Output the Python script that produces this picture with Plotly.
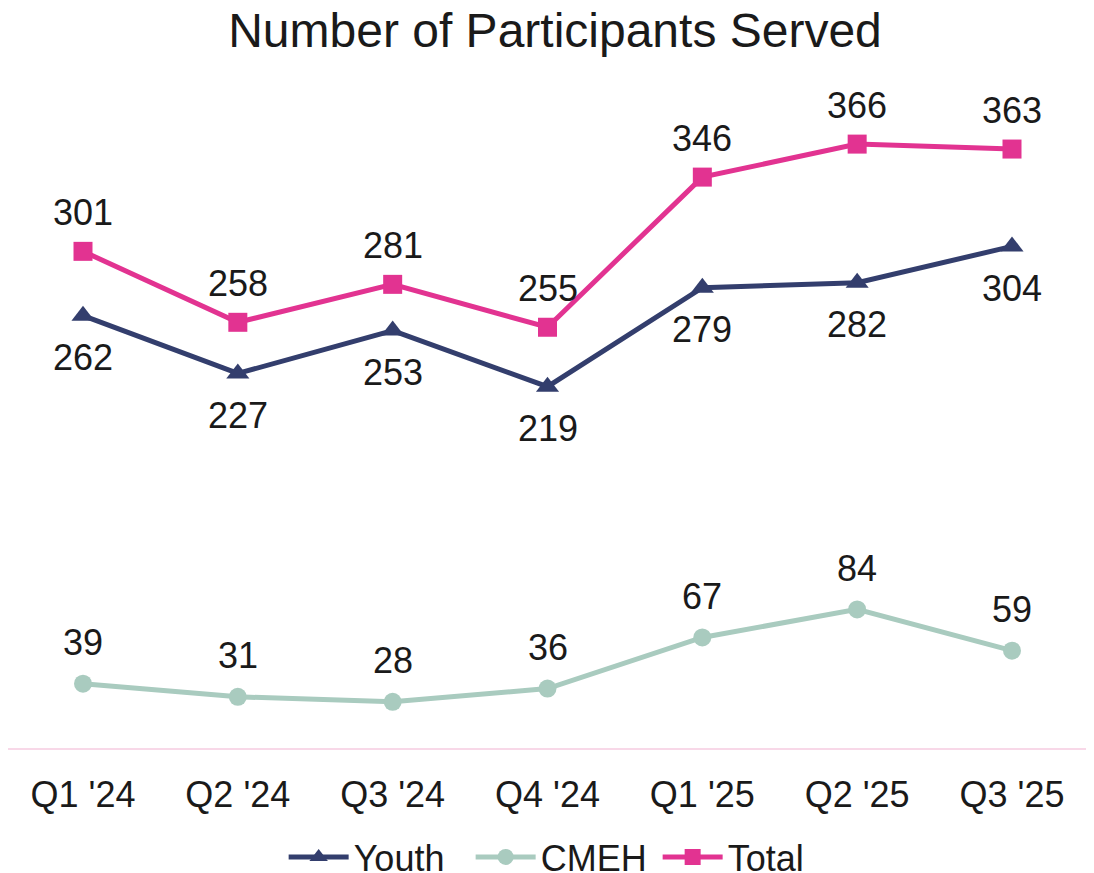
import plotly.graph_objects as go

quarters = ["Q1 '24", "Q2 '24", "Q3 '24", "Q4 '24", "Q1 '25", "Q2 '25", "Q3 '25"]
youth = [262, 227, 253, 219, 279, 282, 304]
cmeh = [39, 31, 28, 36, 67, 84, 59]
total = [301, 258, 281, 255, 346, 366, 363]

FONT = "Liberation Sans, Arial, sans-serif"
TXT = "#1a1a1a"

series = [
    ("Youth", youth, "#333e6d", "triangle-up", 20, -42),
    ("CMEH", cmeh, "#a9cbbf", "circle", 18, 41),
    ("Total", total, "#e23391", "square", 19, 39),
]

fig = go.Figure()
annotations = []
for name, vals, color, sym, msize, shift in series:
    fig.add_trace(go.Scatter(
        x=quarters, y=vals, name=name, mode="lines+markers",
        line=dict(color=color, width=5),
        marker=dict(symbol=sym, size=msize, color=color),
    ))
    for q, v in zip(quarters, vals):
        annotations.append(dict(
            x=q, y=v, xref="x", yref="y", text=str(v), showarrow=False,
            yshift=shift, xanchor="center", yanchor="middle",
            font=dict(size=36, family=FONT, color=TXT),
        ))

fig.update_layout(
    width=1094, height=881,
    margin=dict(l=0, r=12, t=80, b=141),
    paper_bgcolor="white", plot_bgcolor="white",
    font=dict(family=FONT, size=36, color=TXT),
    title=dict(text="Number of Participants Served", x=0.5, xanchor="center",
               y=0.975, yanchor="middle", font=dict(size=48, family=FONT, color=TXT)),
    showlegend=True,
    legend=dict(orientation="h", x=0.514, xanchor="center", yref="container",
                y=0.0363, yanchor="middle", entrywidth=112, entrywidthmode="pixels",
                font=dict(size=36, family=FONT, color=TXT), itemwidth=60, tracegroupgap=0),
    annotations=annotations,
    xaxis=dict(range=[-0.4844, 6.5038], showline=True, linecolor="#f8d8e8", linewidth=2, showgrid=False,
               ticks="outside", ticklen=14, tickcolor="rgba(0,0,0,0)",
               tickfont=dict(size=36, family=FONT, color=TXT), zeroline=False),
    yaxis=dict(range=[0, 400], visible=False, showgrid=False, zeroline=False),
)

fig.write_html("out.html")
